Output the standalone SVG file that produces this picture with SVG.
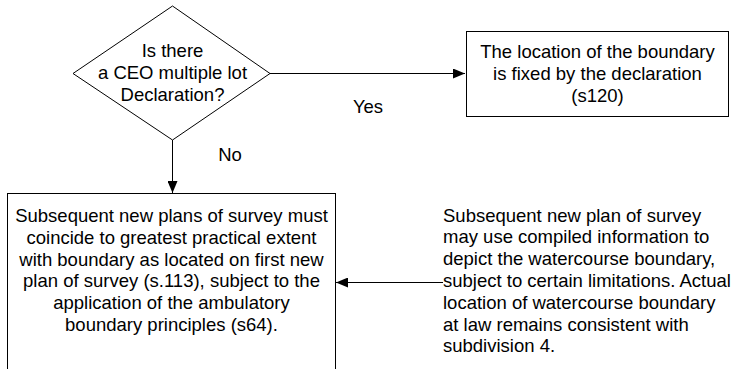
<svg xmlns="http://www.w3.org/2000/svg" width="733" height="369" viewBox="0 0 733 369">
  <style>
    .shape { fill: #ffffff; stroke: #000000; stroke-width: 1; }
    .edge { fill: none; stroke: #000000; stroke-width: 1; }
    text { font-family: "Liberation Sans", Arial, sans-serif; font-size: 18.5px; fill: #000000; }
    .c { text-anchor: middle; }
  </style>
  <defs>
    <marker id="arrow" viewBox="0 0 12 10" refX="12" refY="5" markerWidth="12" markerHeight="10" markerUnits="userSpaceOnUse" orient="auto">
      <path d="M0,0 L12,5 L0,10 Z" fill="#000000"/>
    </marker>
  </defs>
  <rect width="733" height="369" fill="#ffffff"/>

  <g id="connectors">
    <line class="edge" x1="270" y1="73.5" x2="465" y2="73.5" marker-end="url(#arrow)"/>
    <line class="edge" x1="172.5" y1="140" x2="172.5" y2="193" marker-end="url(#arrow)"/>
    <line class="edge" x1="443" y1="282.5" x2="336" y2="282.5" marker-end="url(#arrow)"/>
    <text x="368" y="113" class="c">Yes</text>
    <text x="230" y="161" class="c">No</text>
  </g>

  <g id="decision">
    <polygon class="shape" points="172.5,6 270,73.5 172.5,140 73,73.5"/>
    <text x="172.5" y="57" class="c">Is there</text>
    <text x="172.5" y="79" class="c">a CEO multiple lot</text>
    <text x="172.5" y="100.5" class="c">Declaration?</text>
  </g>

  <g id="fixed-by-declaration">
    <rect class="shape" x="466.5" y="31.5" width="262" height="85"/>
    <text x="597.5" y="58" class="c">The location of the boundary</text>
    <text x="597.5" y="80" class="c">is fixed by the declaration</text>
    <text x="597.5" y="101.5" class="c">(s120)</text>
  </g>

  <g id="subsequent-plans">
    <rect class="shape" x="7.5" y="193.5" width="328" height="200"/>
    <text x="171.5" y="222" class="c">Subsequent new plans of survey must</text>
    <text x="171.5" y="243.8" class="c">coincide to greatest practical extent</text>
    <text x="171.5" y="265.6" class="c">with boundary as located on first new</text>
    <text x="171.5" y="287.4" class="c">plan of survey (s.113), subject to the</text>
    <text x="171.5" y="309.2" class="c">application of the ambulatory</text>
    <text x="171.5" y="331" class="c">boundary principles (s64).</text>
  </g>

  <g id="compiled-information">
    <text x="443" y="221.6">Subsequent new plan of survey</text>
    <text x="443" y="243.4">may use compiled information to</text>
    <text x="443" y="265.2">depict the watercourse boundary,</text>
    <text x="443" y="287">subject to certain limitations. Actual</text>
    <text x="443" y="308.8">location of watercourse boundary</text>
    <text x="443" y="330.6">at law remains consistent with</text>
    <text x="443" y="352.4">subdivision 4.</text>
  </g>
</svg>
